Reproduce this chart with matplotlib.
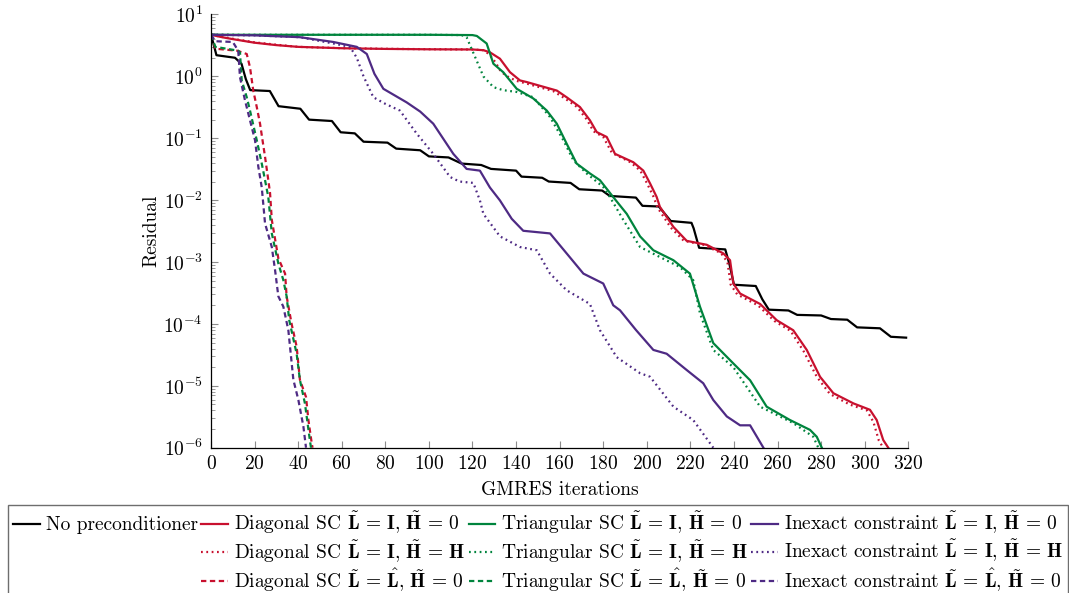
import matplotlib
matplotlib.use("Agg")
import matplotlib.pyplot as plt
from matplotlib.lines import Line2D

plt.rcParams["font.family"] = "serif"
plt.rcParams["font.serif"] = ["cmr10"]
plt.rcParams["mathtext.fontset"] = "cm"
plt.rcParams["axes.formatter.use_mathtext"] = True
plt.rcParams["font.size"] = 14

# ------------------------------------------------------------
# data: (GMRES iteration, residual)
# ------------------------------------------------------------
no_precond = [
    (0, 4.7), (1, 3.5), (2.5, 2.2), (11, 2.0), (14, 1.6), (16, 0.9), (18, 0.6),
    (27, 0.58), (31, 0.33), (41, 0.30), (45, 0.2), (55.5, 0.19), (59.5, 0.125),
    (66, 0.12), (70, 0.088), (81, 0.085), (85, 0.068), (96, 0.064), (100, 0.051),
    (109, 0.049), (115, 0.039), (124, 0.037), (128.5, 0.032), (140, 0.030),
    (142.5, 0.024), (152, 0.023), (155, 0.020), (165, 0.019), (169, 0.015),
    (179.5, 0.0143), (183, 0.0117), (195, 0.011), (198, 0.0081), (205.5, 0.0079),
    (211, 0.0046), (220.5, 0.0043), (221.5, 0.0035), (224, 0.0017), (236, 0.0016),
    (238, 0.0009), (240, 0.00043), (250, 0.00041), (253, 0.00025), (256, 0.00017),
    (265, 0.000165), (269, 0.00014), (280, 0.000137), (284.5, 0.00012),
    (292, 0.000117), (296.5, 0.000088), (307, 0.000085), (312, 0.000062),
    (319, 0.00006),
]

diag_I_0 = [
    (0, 4.7), (5, 4.3), (10, 4.0), (20, 3.5), (30, 3.2), (40, 3.0), (60, 2.85),
    (80, 2.78), (100, 2.74), (120, 2.72), (125, 2.65), (128, 2.45), (132.6, 1.93),
    (137.2, 1.17), (141.8, 0.86), (144.9, 0.81), (150, 0.72), (158.7, 0.59),
    (163.2, 0.46), (169.3, 0.32), (173.9, 0.195), (177, 0.126), (181.6, 0.105),
    (185.4, 0.056), (193.8, 0.041), (198.4, 0.030), (201.5, 0.0186),
    (204.5, 0.0113), (206, 0.0078), (212.2, 0.0037), (218.3, 0.0022),
    (227.5, 0.0019), (235.1, 0.00138), (238.2, 0.00107), (239.7, 0.00045),
    (242.8, 0.00031), (252, 0.00021), (259.6, 0.000115), (267.2, 7.9e-5),
    (273.4, 3.8e-5), (279.5, 1.4e-5), (285.6, 7.6e-6), (294.8, 5.2e-6),
    (302.4, 4.1e-6), (305.5, 2.8e-6), (308.5, 1.33e-6), (310.8, 1e-6),
]

diag_I_H = [
    (0, 4.7), (5, 4.35), (10, 4.05), (20, 3.55), (30, 3.25), (40, 3.0), (60, 2.86),
    (80, 2.79), (100, 2.75), (120, 2.72), (125, 2.65), (127.5, 2.3), (130.5, 1.7),
    (133, 1.2), (136, 1.0), (140, 0.85), (144, 0.78), (150, 0.68), (157, 0.58),
    (162, 0.45), (168, 0.32), (172.5, 0.2), (175.5, 0.13), (180, 0.105),
    (184, 0.058), (192.5, 0.041), (197, 0.03), (200, 0.019), (203, 0.0115),
    (205, 0.0075), (211, 0.0036), (217, 0.0022), (226, 0.0019), (234, 0.0014),
    (237, 0.001), (238.5, 0.00043), (241.5, 0.0003), (251, 0.0002),
    (258.5, 0.000112), (266, 7.7e-5), (272, 3.6e-5), (278, 1.4e-5), (284, 7.4e-6),
    (293, 5.0e-6), (301, 4.0e-6), (304, 2.6e-6), (306.5, 1.3e-6), (308.5, 1e-6),
]

diag_Lhat_0 = [
    (0, 4.7), (2, 2.8), (12, 2.6), (16.4, 2.3), (17.9, 1.4), (19.4, 0.59),
    (21, 0.32), (22.5, 0.172), (24.8, 0.05), (26.3, 0.021), (27.1, 0.013),
    (27.9, 0.0048), (30.9, 0.00115), (34, 0.00065), (34.7, 0.00028), (37, 0.0001),
    (39.3, 4.3e-5), (40.8, 1.25e-5), (43.6, 6.6e-6), (44.7, 2.8e-6),
    (46.2, 1.2e-6), (46.6, 1e-6),
]

tri_I_0 = [
    (0, 4.7), (60, 4.7), (100, 4.7), (120, 4.65), (122, 4.5), (126.5, 3.4),
    (129.6, 1.6), (134.1, 1.17), (140.3, 0.63), (147.9, 0.44), (154.1, 0.28),
    (158.7, 0.172), (163.2, 0.082), (167.8, 0.039), (173.9, 0.027), (178.5, 0.021),
    (184.6, 0.0112), (190.8, 0.006), (196.9, 0.0026), (203, 0.00155),
    (212.2, 0.00107), (219.8, 0.00065), (224.4, 0.00019), (230.5, 4.9e-5),
    (239.7, 2.3e-5), (247.4, 1.23e-5), (255, 4.6e-6), (265.7, 2.8e-6),
    (274.9, 1.94e-6), (278, 1.5e-6), (280.3, 1e-6),
]

tri_I_H = [
    (0, 4.7), (100, 4.7), (115, 4.65), (117.3, 4.3), (121.9, 1.8), (125, 1.0),
    (129.6, 0.67), (134, 0.6), (140.3, 0.56), (147.9, 0.46), (155.6, 0.22),
    (161.7, 0.093), (166.3, 0.044), (172.4, 0.027), (180, 0.0163), (183.1, 0.0112),
    (189.2, 0.0048), (196.9, 0.00175), (204.5, 0.00128), (215.2, 0.00083),
    (221.3, 0.00051), (224.4, 0.000148), (230.5, 3.8e-5), (239.7, 2.0e-5),
    (252, 4.6e-6), (267.2, 2.5e-6), (276.4, 1.5e-6), (278.7, 1e-6),
]

tri_Lhat_0 = [
    (0, 4.7), (2, 3.0), (12.5, 2.6), (13.3, 2.45), (14.1, 0.86), (16.4, 0.46),
    (17.9, 0.28), (21, 0.093), (23.3, 0.039), (24.8, 0.021), (26.3, 0.0112),
    (27.9, 0.0029), (30.9, 0.00095), (33.2, 0.00051), (34.7, 0.00028),
    (35.9, 0.000115), (39.3, 3.3e-5), (40.8, 1.25e-5), (43.1, 5.2e-6),
    (45.4, 1.3e-6), (45.9, 1e-6),
]

inexact_I_0 = [
    (0, 4.7), (20, 4.6), (40.8, 4.3), (56.1, 3.6), (66.9, 3.0), (71.5, 2.3),
    (75, 1.1), (79.1, 0.63), (89.8, 0.38), (96, 0.27), (102, 0.172), (111.2, 0.056),
    (117.3, 0.032), (123.4, 0.030), (128, 0.016), (132.6, 0.0099), (138, 0.005),
    (143.3, 0.0032), (155.6, 0.0029), (163.2, 0.00138), (170.9, 0.00065),
    (180, 0.00045), (184.6, 0.0002), (187.7, 0.000166), (195, 8e-5), (203, 3.8e-5),
    (209.1, 3.3e-5), (218.3, 1.8e-5), (225.9, 1.1e-5), (230.5, 5.9e-6),
    (236.7, 3.2e-6), (242.8, 2.3e-6), (247.4, 2.3e-6), (253.5, 1e-6),
]

inexact_I_H = [
    (0, 4.7), (20, 4.6), (40.8, 4.3), (56.1, 3.4), (63.8, 3.0), (66.9, 2.0),
    (70, 1.0), (74.5, 0.46), (80, 0.36), (86.7, 0.28), (94.4, 0.119), (102, 0.056),
    (109.7, 0.0237), (114, 0.02), (120.4, 0.019), (123.4, 0.0099), (125, 0.006),
    (132.6, 0.0026), (141.8, 0.00175), (149.5, 0.00155), (155.6, 0.00065),
    (163.2, 0.00035), (173.9, 0.00021), (178.5, 7.9e-5), (186.2, 2.9e-5),
    (196.9, 1.6e-5), (201.5, 1.4e-5), (212.2, 4.6e-6), (221.3, 2.8e-6),
    (230.5, 1e-6),
]

inexact_Lhat_0 = [
    (0, 4.7), (2, 3.7), (10, 3.6), (12.5, 2.6), (13.3, 0.97), (15.6, 0.41),
    (17.9, 0.195), (20.2, 0.093), (21.7, 0.035), (23.3, 0.016), (24.8, 0.0042),
    (27.9, 0.00175), (29.4, 0.00074), (30.9, 0.00028), (33.2, 0.00019),
    (35.5, 7.9e-5), (37.8, 1.25e-5), (40.1, 5.9e-6), (42.4, 2.2e-6), (43.6, 1e-6),
]

L_I = r"$\tilde{\mathbf{L}}\,=\,\mathbf{I}$"
L_hat = r"$\tilde{\mathbf{L}}\,=\,\hat{\mathbf{L}}$"
H_0 = r"$\tilde{\mathbf{H}}\,=\,0$"
H_H = r"$\tilde{\mathbf{H}}\,=\,\mathbf{H}$"

RED = "#c8102e"
GREEN = "#00843d"
PURPLE = "#4e2a84"

DOT = (0, (0.8, 1.6))
DASH = (0, (2.4, 1.6))

series = [
    (no_precond, "black", "-", "No preconditioner"),
    (diag_I_0, RED, "-", f"Diagonal SC {L_I}, {H_0}"),
    (diag_I_H, RED, DOT, f"Diagonal SC {L_I}, {H_H}"),
    (diag_Lhat_0, RED, DASH, f"Diagonal SC {L_hat}, {H_0}"),
    (tri_I_0, GREEN, "-", f"Triangular SC {L_I}, {H_0}"),
    (tri_I_H, GREEN, DOT, f"Triangular SC {L_I}, {H_H}"),
    (tri_Lhat_0, GREEN, DASH, f"Triangular SC {L_hat}, {H_0}"),
    (inexact_I_0, PURPLE, "-", f"Inexact constraint {L_I}, {H_0}"),
    (inexact_I_H, PURPLE, DOT, f"Inexact constraint {L_I}, {H_H}"),
    (inexact_Lhat_0, PURPLE, DASH, f"Inexact constraint {L_hat}, {H_0}"),
]

W, H = 1069, 593
fig = plt.figure(figsize=(W / 100, H / 100), dpi=100)
ax = fig.add_axes([211 / W, 1 - 447.7 / H, (908.3 - 211) / W, (447.7 - 14.5) / H])

handles = []
labels = []
for data, color, ls, label in series:
    x, y = zip(*data)
    line, = ax.plot(x, y, color=color, linestyle=ls, linewidth=1.6,
                    solid_joinstyle="round")
    handles.append(line)
    labels.append(label)
    if label == "No preconditioner":
        # first legend column holds only one entry
        for _ in range(2):
            handles.append(Line2D([], [], linestyle="none"))
            labels.append("")

ax.set_yscale("log")
ax.set_xlim(0, 320)
ax.set_ylim(1e-6, 1e1)
ax.set_xticks(range(0, 321, 20))
ax.set_yticks([10.0 ** k for k in range(-6, 2)])

for side in ("top", "right"):
    ax.spines[side].set_visible(False)
for side in ("left", "bottom"):
    ax.spines[side].set_linewidth(0.9)

ax.tick_params(which="both", direction="in", color="#8c8c8c")
ax.tick_params(which="major", length=5, width=0.8)
ax.tick_params(which="minor", length=3, width=0.6)
ax.tick_params(axis="x", pad=5)
ax.tick_params(axis="y", pad=6)

ax.set_xlabel("GMRES iterations", labelpad=6)
ax.set_ylabel("Residual", labelpad=2)

fig.legend(handles, labels, ncol=4, loc="upper left",
           bbox_to_anchor=(8 / W, 1 - 505 / H),
           frameon=True, fancybox=False, edgecolor="#6e6e6e",
           framealpha=1, handlelength=1.38, handletextpad=0.3,
           columnspacing=0.18, borderpad=0.25, labelspacing=0.1,
           borderaxespad=0)

fig.savefig("out.png", dpi=100)
